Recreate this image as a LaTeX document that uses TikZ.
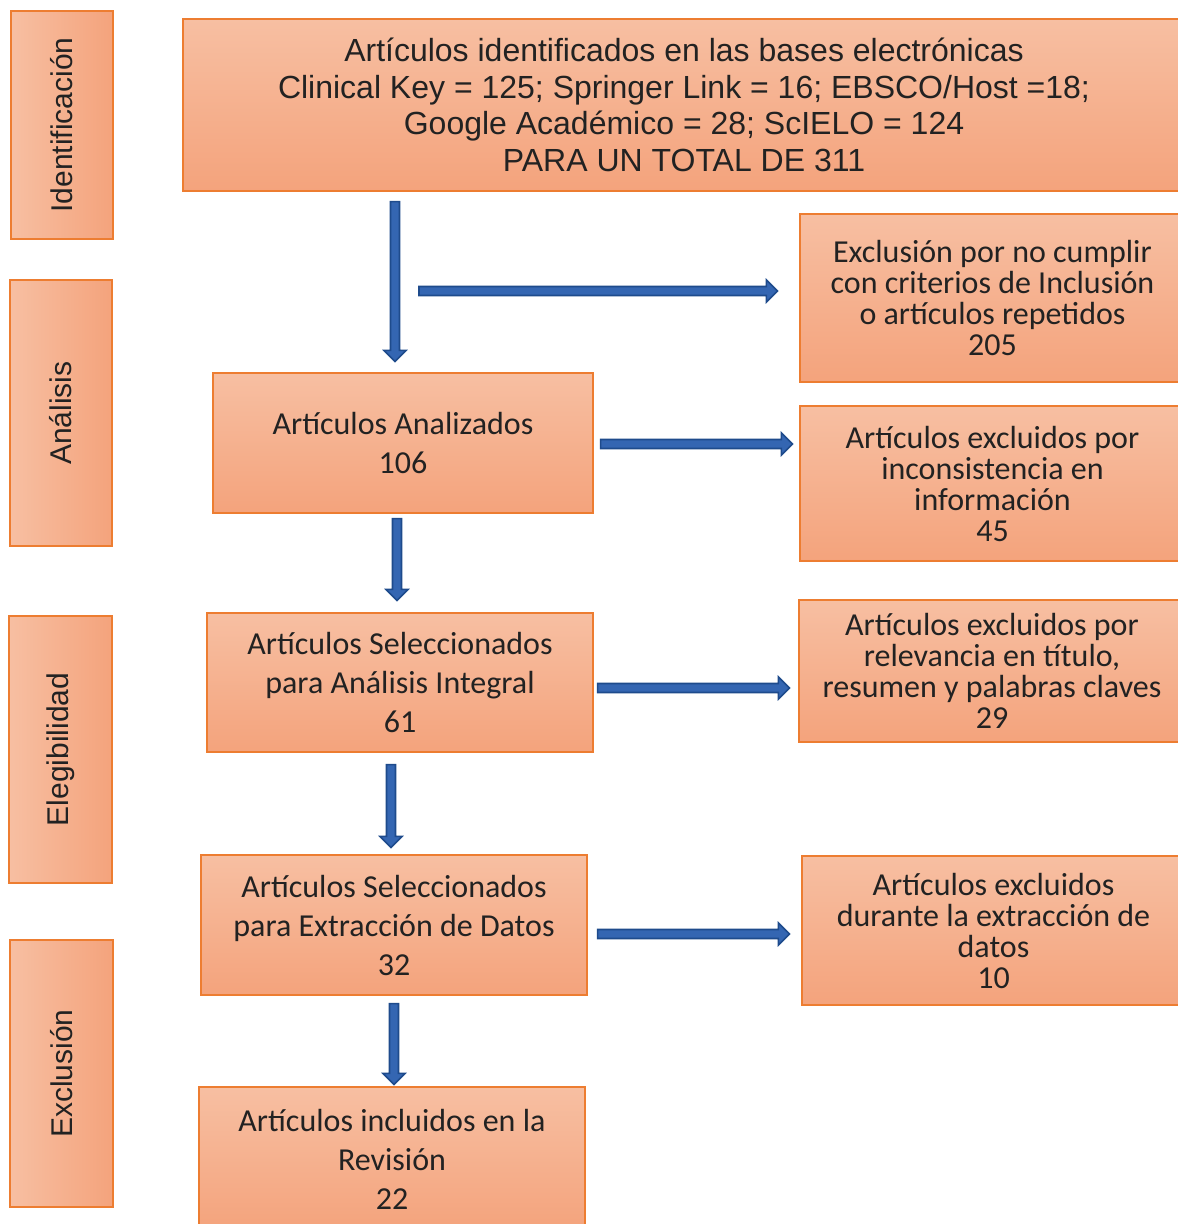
\documentclass[tikz,border=0pt]{standalone}
\usepackage{fontspec}
\setmainfont{Carlito}
\newfontfamily\arialf{Liberation Sans}
\usetikzlibrary{calc}
\definecolor{boxlight}{RGB}{247,191,162}
\definecolor{boxdark}{RGB}{244,163,124}
\definecolor{boxline}{RGB}{237,125,49}
\definecolor{arrdark}{RGB}{30,75,140}
\definecolor{arrfill}{RGB}{52,102,178}
\definecolor{txt}{RGB}{34,34,34}
\tikzset{
  flowbox/.style={draw=boxline, line width=1.2pt, top color=boxlight, bottom color=boxdark,
    inner sep=0pt, align=center, text=txt, font=\fontsize{32}{39}\selectfont},
  rbox/.style={flowbox, font=\fontsize{32}{31}\selectfont},
  topbox/.style={flowbox, font=\arialf\fontsize{32}{36.5}\selectfont},
  sidebox/.style={draw=boxline, line width=1.2pt, rotate=90, left color=boxlight, right color=boxdark,
    inner sep=0pt, text=txt, font=\arialf\fontsize{30}{32}\selectfont},
  barrow/.style={draw=arrdark, fill=arrfill, line width=1.6pt, line join=miter}
}
\newcommand{\flowdown}[2]{\path[barrow] let \p1=(#1), \p2=(#2) in
  (\x1-4.5pt,\y1) -- (\x1-4.5pt,\y2+11pt) -- (\x1-11pt,\y2+11pt) -- (\x1,\y2) --
  (\x1+11pt,\y2+11pt) -- (\x1+4.5pt,\y2+11pt) -- (\x1+4.5pt,\y1) -- cycle;}
\newcommand{\flowright}[2]{\path[barrow] let \p1=(#1), \p2=(#2) in
  (\x1,\y1+4.5pt) -- (\x2-11pt,\y1+4.5pt) -- (\x2-11pt,\y1+11pt) -- (\x2,\y1) --
  (\x2-11pt,\y1-11pt) -- (\x2-11pt,\y1-4.5pt) -- (\x1,\y1-4.5pt) -- cycle;}
\begin{document}
\begin{tikzpicture}[x=1pt,y=-1pt]
\useasboundingbox (0,0) rectangle (1178,1224);
\fill[white] (0,0) rectangle (1178,1224);
% side labels
\node[sidebox, minimum width=228pt, minimum height=102pt] (sid) at (62,125) {Identificación};
\node[sidebox, minimum width=266pt, minimum height=102pt] (san) at (61,413) {Análisis};
\node[sidebox, minimum width=267pt, minimum height=103pt] (sel) at (60.5,749.5) {Elegibilidad};
\node[sidebox, minimum width=267pt, minimum height=103pt] (sex) at (61.5,1073.5) {Exclusión};
% main column
\node[topbox, minimum width=1002pt, minimum height=172pt] (top) at (684,105)
  {Artículos identificados en las bases electrónicas\\Clinical Key = 125; Springer Link = 16; EBSCO/Host =18;\\Google Académico = 28; ScIELO = 124\\PARA UN TOTAL DE 311};
\node[flowbox, minimum width=380pt, minimum height=140pt] (an) at (403,443)
  {Artículos Analizados\\106};
\node[flowbox, minimum width=386pt, minimum height=139pt] (se) at (400,682.5)
  {Artículos Seleccionados\\para Análisis Integral\\61};
\node[flowbox, minimum width=386pt, minimum height=140pt] (ex) at (394,925)
  {Artículos Seleccionados\\para Extracción de Datos\\32};
\node[flowbox, minimum width=386pt, minimum height=144pt] (inc) at (392,1159)
  {Artículos incluidos en la\\Revisión\\22};
% exclusion column
\node[rbox, minimum width=385pt, minimum height=168pt] (e205) at (992.5,298)
  {Exclusión por no cumplir\\con criterios de Inclusión\\o artículos repetidos\\205};
\node[rbox, minimum width=385pt, minimum height=155pt] (e45) at (992.5,483.5)
  {Artículos excluidos por\\inconsistencia en\\información\\45};
\node[rbox, minimum width=386pt, minimum height=142pt] (e29) at (992,671)
  {Artículos excluidos por\\relevancia en título,\\resumen y palabras claves\\29};
\node[rbox, minimum width=383pt, minimum height=149pt] (e10) at (993.5,930.5)
  {Artículos excluidos\\durante la extracción de\\datos\\10};
% connectors
\coordinate (r1) at (419,291);
\flowdown{$(an.north |- top.south)+(-8,10)$}{$(an.north)+(-8,-11)$}
\flowdown{$(an.south)+(-6,5)$}{$(se.north)+(-3,-12)$}
\flowdown{$(se.south)+(-9,12)$}{$(ex.north)+(-3,-7)$}
\flowdown{$(ex.south)+(0,8)$}{$(inc.north)+(2,-2)$}
\flowright{r1}{$(r1 -| e205.west)+(-22,0)$}
\flowright{$(an.east)+(7,1)$}{$(e45.west)+(-7,0)$}
\flowright{$(se.east)+(4,5.5)$}{$(e29.west)+(-9,0)$}
\flowright{$(ex.east)+(10,9)$}{$(e10.west)+(-12,0)$}
\end{tikzpicture}
\end{document}
